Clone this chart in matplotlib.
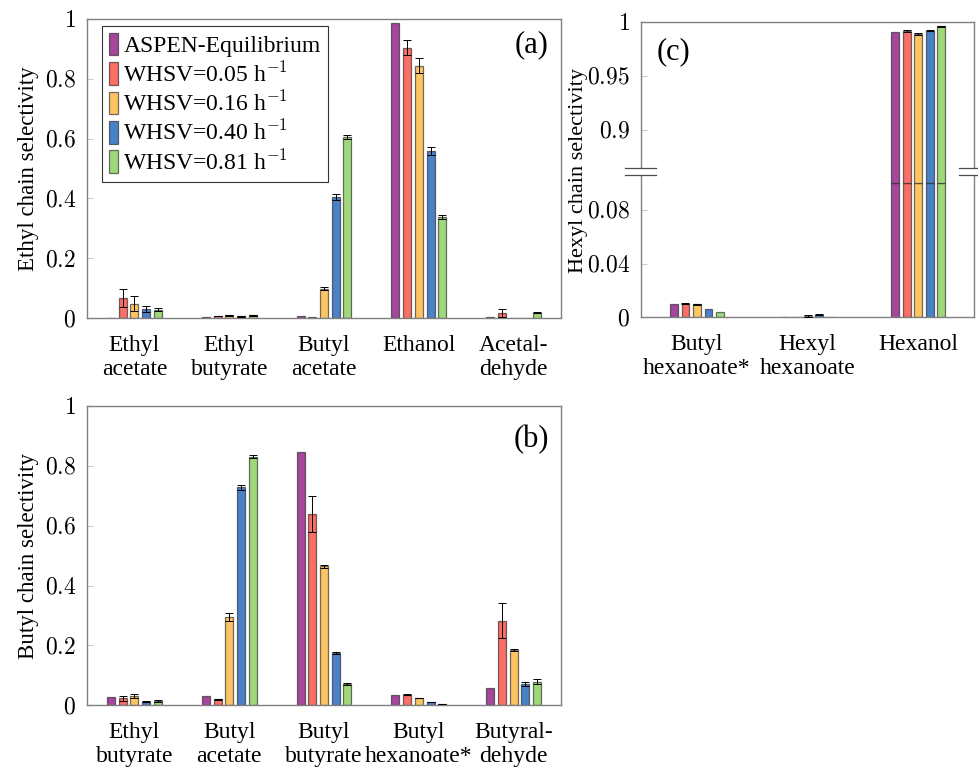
import numpy as np
import matplotlib
matplotlib.use("Agg")
import matplotlib.pyplot as plt
import matplotlib.transforms as mtransforms
from matplotlib.ticker import FixedLocator, FixedFormatter

plt.rcParams['font.family'] = ['Liberation Serif', 'DejaVu Serif']
plt.rcParams['mathtext.fontset'] = 'cm'

series = ["ASPEN-Equilibrium", r"WHSV=0.05 h$^{-1}$", r"WHSV=0.16 h$^{-1}$",
          r"WHSV=0.40 h$^{-1}$", r"WHSV=0.81 h$^{-1}$"]
colors = ["#a5489c", "#fa6f66", "#fdc462", "#4a82c8", "#9fd87a"]

# (a) ethyl chain, rows = series
ethyl_cats = ["Ethyl\nacetate", "Ethyl\nbutyrate", "Butyl\nacetate", "Ethanol", "Acetal-\ndehyde"]
ethyl_vals = [[0.001, 0.005, 0.006, 0.987, 0.002],
              [0.068, 0.007, 0.002, 0.904, 0.018],
              [0.048, 0.009, 0.098, 0.843, 0.0],
              [0.031, 0.006, 0.405, 0.557, 0.0],
              [0.028, 0.009, 0.605, 0.338, 0.018]]
ethyl_err = [[0, 0, 0, 0, 0],
             [0.030, 0.001, 0, 0.024, 0.013],
             [0.024, 0.001, 0.004, 0.025, 0],
             [0.010, 0.001, 0.010, 0.013, 0],
             [0.006, 0.001, 0.006, 0.008, 0.002]]

# (b) butyl chain
butyl_cats = ["Ethyl\nbutyrate", "Butyl\nacetate", "Butyl\nbutyrate", "Butyl\nhexanoate*", "Butyral-\ndehyde"]
butyl_vals = [[0.028, 0.031, 0.848, 0.033, 0.057],
              [0.023, 0.020, 0.639, 0.035, 0.283],
              [0.030, 0.294, 0.464, 0.024, 0.186],
              [0.012, 0.729, 0.175, 0.011, 0.071],
              [0.014, 0.831, 0.071, 0.005, 0.079]]
butyl_err = [[0, 0, 0, 0, 0],
             [0.009, 0.002, 0.060, 0.002, 0.058],
             [0.007, 0.013, 0.004, 0.001, 0.003],
             [0.002, 0.008, 0.002, 0.001, 0.006],
             [0.003, 0.004, 0.002, 0.001, 0.009]]

# (c) hexyl chain
hexyl_cats = ["Butyl\nhexanoate*", "Hexyl\nhexanoate", "Hexanol"]
hexyl_vals = [[0.0096, 0.0, 0.9906],
              [0.0101, 0.0, 0.9916],
              [0.0098, 0.001, 0.9887],
              [0.0060, 0.002, 0.9920],
              [0.0040, 0.0, 0.9960]]
hexyl_err = [[0, 0, 0],
             [0.0004, 0, 0.0008],
             [0.0003, 0.0005, 0.0009],
             [0, 0.0007, 0.0006],
             [0, 0, 0.0005]]

# broken axis for (c): value -> relative height
brk_v = [0.0, 0.1, 0.858, 1.0]
brk_p = [0.0, 134.0, 142.0, 295.0]


def fwd(v):
    return np.interp(v, brk_v, brk_p)


def inv(p):
    return np.interp(p, brk_p, brk_v)


def style_axis(ax, ticks, labels, cats):
    for s in ax.spines.values():
        s.set_color('0.5')
        s.set_linewidth(1.0)
    ax.yaxis.set_major_locator(FixedLocator(ticks))
    ax.yaxis.set_major_formatter(FixedFormatter(["$%s$" % t for t in labels]))
    ax.tick_params(axis='y', direction='in', length=4, color='0.8', labelsize=17, pad=8)
    ax.set_xticks(np.arange(len(cats)))
    ax.set_xticklabels(cats, fontsize=17, linespacing=1.2)
    ax.tick_params(axis='x', length=0, pad=12)


def draw_bars(ax, vals, errs, width, step, cut=None):
    vals = np.array(vals)
    errs = np.array(errs)
    x = np.arange(vals.shape[1])
    for i in range(len(series)):
        xi = x + (i - 2) * step
        v = vals[i]
        kw = dict(color=colors[i], edgecolor=(0.15, 0.15, 0.15, 0.65), linewidth=0.9)
        if cut is None:
            ax.bar(xi, v, width, label=series[i], **kw)
        else:
            ax.bar(xi, np.minimum(v, cut), width, label=series[i], **kw)
            up = v > cut
            ax.bar(xi[up], v[up] - cut, width, bottom=cut, **kw)
        m = errs[i] > 0
        ax.errorbar(xi[m], v[m], yerr=errs[i][m], fmt='none', ecolor='k',
                    elinewidth=0.7, capsize=3, capthick=0.7, zorder=4)


fig = plt.figure(figsize=(9.79, 7.70), dpi=100)

ax_a = fig.add_axes([0.0889, 0.587, 0.4842, 0.3885])
draw_bars(ax_a, ethyl_vals, ethyl_err, 0.085, 0.1235)
ax_a.set_xlim(-0.5, 4.5)
ax_a.set_ylim(0, 1)
style_axis(ax_a, [0, 0.2, 0.4, 0.6, 0.8, 1], ["0", "0.2", "0.4", "0.6", "0.8", "1"], ethyl_cats)
leg = ax_a.legend(loc='upper left', bbox_to_anchor=(0.032, 0.977), borderaxespad=0,
                  fontsize=17, frameon=True, fancybox=False, edgecolor='k',
                  handlelength=0.35, handleheight=1.1, handletextpad=0.25,
                  labelspacing=0.18, borderpad=0.3)
leg.get_frame().set_linewidth(0.8)
ax_a.text(0.937, 0.913, "(a)", transform=ax_a.transAxes, fontsize=22, ha='center', va='center')
fig.text(0.029, 0.781, "Ethyl chain selectivity", rotation=90, fontsize=16.5, ha='center', va='center')

ax_b = fig.add_axes([0.0889, 0.084, 0.4842, 0.3887])
draw_bars(ax_b, butyl_vals, butyl_err, 0.085, 0.1235)
ax_b.set_xlim(-0.5, 4.5)
ax_b.set_ylim(0, 1)
style_axis(ax_b, [0, 0.2, 0.4, 0.6, 0.8, 1], ["0", "0.2", "0.4", "0.6", "0.8", "1"], butyl_cats)
ax_b.text(0.937, 0.887, "(b)", transform=ax_b.transAxes, fontsize=22, ha='center', va='center')
fig.text(0.029, 0.278, "Butyl chain selectivity", rotation=90, fontsize=16.5, ha='center', va='center')

ax_c = fig.add_axes([0.6547, 0.588, 0.3403, 0.3834])
ax_c.set_yscale('function', functions=(fwd, inv))
draw_bars(ax_c, hexyl_vals, hexyl_err, 0.072, 0.104, cut=0.1)
ax_c.set_xlim(-0.507, 2.507)
ax_c.set_ylim(0, 1)
style_axis(ax_c, [0, 0.04, 0.08, 0.9, 0.95, 1], ["0", "0.04", "0.08", "0.9", "0.95", "1"], hexyl_cats)
ax_c.yaxis.set_minor_locator(FixedLocator([]))
ax_c.text(0.099, 0.899, "(c)", transform=ax_c.transAxes, fontsize=22, ha='center', va='center')
fig.text(0.591, 0.779, "Hexyl chain selectivity", rotation=90, fontsize=16, ha='center', va='center')

# break marks on both spines
tr = mtransforms.blended_transform_factory(ax_c.transAxes, ax_c.transData)
for x0, x1 in [(-0.048, 0.045), (0.955, 1.06)]:
    ax_c.fill_between([x0, x1], 0.858, 0.8647, transform=tr, color='white',
                      clip_on=False, zorder=5, linewidth=0)
    for yb in (0.858, 0.8647):
        ax_c.plot([x0, x1], [yb, yb], transform=tr, color='0.3', lw=0.9,
                  clip_on=False, zorder=6)

fig.savefig("out.png", dpi=100)
